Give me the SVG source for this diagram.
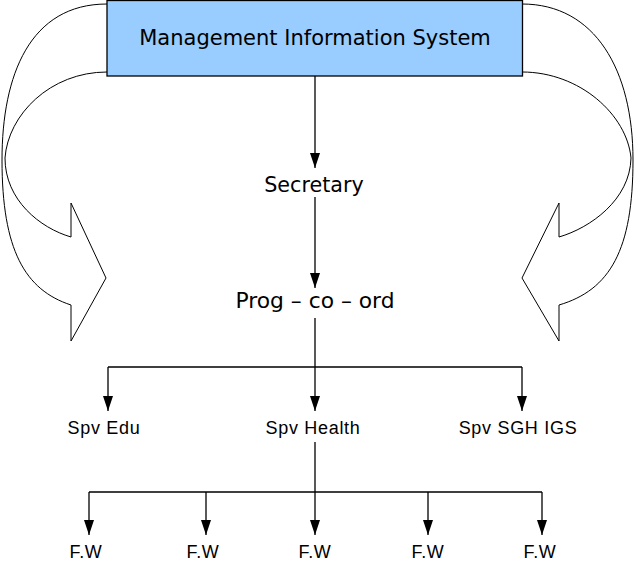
<svg xmlns="http://www.w3.org/2000/svg" width="636" height="577" viewBox="0 0 636 577">
<style>
.bg{fill:#ffffff}
.curve{fill:#ffffff;stroke:#000;stroke-width:1}
.box{fill:#99ccff;stroke:#000;stroke-width:1.3}
.conn{fill:none;stroke:#000;stroke-width:1.3}
.t1{font-family:"DejaVu Sans",sans-serif;fill:#000;text-anchor:middle}
.t2{font-family:"Liberation Sans",Arial,sans-serif;font-size:18px;letter-spacing:0.7px;fill:#000;text-anchor:middle}
</style>
<defs>
<marker id="ah" viewBox="0 0 15 10" markerWidth="15" markerHeight="10" refX="15" refY="5" orient="auto" markerUnits="userSpaceOnUse">
<path d="M0,0 L15,5 L0,10 z" fill="#000"/>
</marker>
</defs>
<rect class="bg" x="0" y="0" width="636" height="577"/>
<g id="loop-left">
<path class="curve" d="M107,4 C30,4 2,75 2,160 C2,250 25,290 71,305 L71,341 L106,278 L71,203 L71,237 C40,228 5,200 5,158 C8,115 50,72 107,72"/>
</g>
<g id="loop-right">
<path class="curve" d="M522,4 C595,4 633,70 633,160 C633,250 610,290 559,305 L559,341 L522,278 L559,203 L559,237 C590,228 630,200 631,158 C627,115 580,72 522,72"/>
</g>
<g id="mis">
<rect class="box" x="107" y="0.5" width="415.5" height="75.5"/>
<text class="t1" x="315" y="45" font-size="21">Management Information System</text>
</g>
<g id="connectors">
<path class="conn" d="M315,76 V168" marker-end="url(#ah)"/>
<path class="conn" d="M315,197 V288" marker-end="url(#ah)"/>
<path class="conn" d="M315,318 V367 M108,367 H522"/>
<path class="conn" d="M108,367 V411" marker-end="url(#ah)"/>
<path class="conn" d="M315,367 V411" marker-end="url(#ah)"/>
<path class="conn" d="M522,367 V411" marker-end="url(#ah)"/>
<path class="conn" d="M315,442 V492 M89,492 H542"/>
<path class="conn" d="M89,492 V535" marker-end="url(#ah)"/>
<path class="conn" d="M206,492 V535" marker-end="url(#ah)"/>
<path class="conn" d="M315,492 V535" marker-end="url(#ah)"/>
<path class="conn" d="M428,492 V535" marker-end="url(#ah)"/>
<path class="conn" d="M542,492 V535" marker-end="url(#ah)"/>
</g>
<g id="secretary"><text class="t1" x="314" y="192" font-size="20.7">Secretary</text></g>
<g id="progcoord"><text class="t1" x="315" y="308" font-size="21.8">Prog – co – ord</text></g>
<g id="spv-edu"><text class="t2" x="104" y="434">Spv Edu</text></g>
<g id="spv-health"><text class="t2" x="313" y="434">Spv Health</text></g>
<g id="spv-sgh"><text class="t2" x="518" y="434">Spv SGH IGS</text></g>
<g id="fw1"><text class="t2" x="86" y="558">F.W</text></g>
<g id="fw2"><text class="t2" x="203" y="558">F.W</text></g>
<g id="fw3"><text class="t2" x="315" y="558">F.W</text></g>
<g id="fw4"><text class="t2" x="428" y="558">F.W</text></g>
<g id="fw5"><text class="t2" x="540" y="558">F.W</text></g>
</svg>
